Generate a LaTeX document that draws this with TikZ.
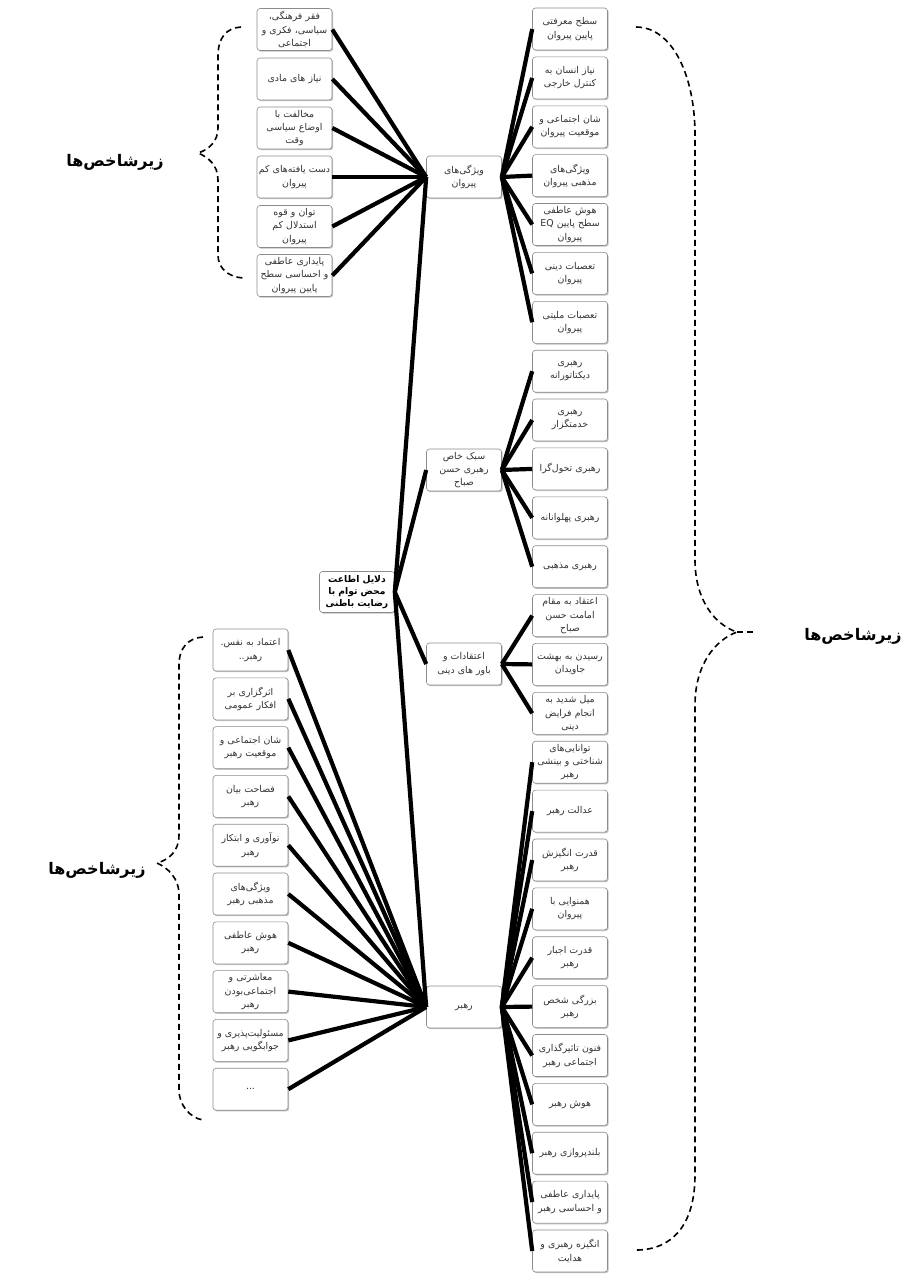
\documentclass[tikz,border=0pt]{standalone}
\usepackage{fontspec}
\newfontfamily\arabicfont[Script=Arabic]{DejaVu Sans}
\TeXXeTstate=1
\usetikzlibrary{shadows}
\newcommand{\rl}[1]{\beginR #1\endR}
\begin{document}
\begin{tikzpicture}[x=1pt,y=-1pt,
  box/.style={draw=black!45, line width=0.6pt, rounded corners=3pt, fill=white,
    minimum width=75pt, minimum height=42pt, text width=74pt, align=center, inner xsep=0.5pt, inner ysep=0pt,
    font=\arabicfont\fontsize{9.4}{13.2}\selectfont, text=black!80,
    drop shadow={shadow xshift=1.2pt, shadow yshift=-1.2pt, fill=black!30, opacity=.8}},
  rootbox/.style={box, font=\arabicfont\bfseries\fontsize{9.2}{12.2}\selectfont, text=black, minimum height=41pt},
  conn/.style={line width=4.2pt, black},
  brace/.style={line width=1.6pt, dash pattern=on 6pt off 4pt, black},
  lbl/.style={font=\arabicfont\bfseries\fontsize{16}{18}\selectfont}]
\useasboundingbox[fill=white] (0,0) rectangle (908,1275);

% right column
\node[box] (r0) at (570,29.0) {\rl{سطح معرفتی}\\\rl{پایین پیروان}};
\node[box] (r1) at (570,77.9) {\rl{نیاز انسان به}\\\rl{کنترل خارجی}};
\node[box] (r2) at (570,126.8) {\rl{شان اجتماعی و}\\\rl{موقعیت پیروان}};
\node[box] (r3) at (570,175.6) {\rl{ویژگی^^^^200cهای}\\\rl{مذهبی پیروان}};
\node[box] (r4) at (570,224.5) {\rl{هوش عاطفی}\\\rl{سطح پایین \beginL EQ\endL{}}\\\rl{پیروان}};
\node[box] (r5) at (570,273.4) {\rl{تعصبات دینی}\\\rl{پیروان}};
\node[box] (r6) at (570,322.3) {\rl{تعصبات ملیتی}\\\rl{پیروان}};
\node[box] (r7) at (570,371.2) {\rl{رهبری}\\\rl{دیکتاتورانه}};
\node[box] (r8) at (570,420.0) {\rl{رهبری}\\\rl{خدمتگزار}};
\node[box] (r9) at (570,468.9) {\rl{رهبری تحول^^^^200cگرا}};
\node[box] (r10) at (570,517.8) {\rl{رهبری پهلوانانه}};
\node[box] (r11) at (570,566.7) {\rl{رهبری مذهبی}};
\node[box] (r12) at (570,615.6) {\rl{اعتقاد به مقام}\\\rl{امامت حسن}\\\rl{صباح}};
\node[box] (r13) at (570,664.4) {\rl{رسیدن به بهشت}\\\rl{جاویدان}};
\node[box] (r14) at (570,713.3) {\rl{میل شدید به}\\\rl{انجام فرایض}\\\rl{دینی}};
\node[box] (r15) at (570,762.2) {\rl{توانایی^^^^200cهای}\\\rl{شناختی و بینشی}\\\rl{رهبر}};
\node[box] (r16) at (570,811.1) {\rl{عدالت رهبر}};
\node[box] (r17) at (570,860.0) {\rl{قدرت انگیزش}\\\rl{رهبر}};
\node[box] (r18) at (570,908.8) {\rl{همنوایی با}\\\rl{پیروان}};
\node[box] (r19) at (570,957.7) {\rl{قدرت اجبار}\\\rl{رهبر}};
\node[box] (r20) at (570,1006.6) {\rl{بزرگی شخص}\\\rl{رهبر}};
\node[box] (r21) at (570,1055.5) {\rl{فنون تاثیرگذاری}\\\rl{اجتماعی رهبر}};
\node[box] (r22) at (570,1104.4) {\rl{هوش رهبر}};
\node[box] (r23) at (570,1153.2) {\rl{بلندپروازی رهبر}};
\node[box] (r24) at (570,1202.1) {\rl{پایداری عاطفی}\\\rl{و احساسی رهبر}};
\node[box] (r25) at (570,1251.0) {\rl{انگیزه رهبری و}\\\rl{هدایت}};

% left top column
\node[box] (lt0) at (294.5,29.5) {\rl{فقر فرهنگی،}\\\rl{سیاسی، فکری و}\\\rl{اجتماعی}};
\node[box] (lt1) at (294.5,79) {\rl{نیاز های مادی}};
\node[box] (lt2) at (294.5,128) {\rl{مخالفت با}\\\rl{اوضاع سیاسی}\\\rl{وقت}};
\node[box] (lt3) at (294.5,177) {\rl{دست یافته^^^^200cهای کم}\\\rl{پیروان}};
\node[box] (lt4) at (294.5,226.5) {\rl{توان و قوه}\\\rl{استدلال کم}\\\rl{پیروان}};
\node[box] (lt5) at (294.5,275.5) {\rl{پایداری عاطفی}\\\rl{و احساسی سطح}\\\rl{پایین پیروان}};

% left bottom column
\node[box] (lb0) at (250.5,650) {\rl{اعتماد به نفس.}\\\rl{رهبر..}};
\node[box] (lb1) at (250.5,698.8) {\rl{اثرگزاری بر}\\\rl{افکار عمومی}};
\node[box] (lb2) at (250.5,747.6) {\rl{شان اجتماعی و}\\\rl{موقعیت رهبر}};
\node[box] (lb3) at (250.5,796.4) {\rl{فصاحت بیان}\\\rl{رهبر}};
\node[box] (lb4) at (250.5,845.2) {\rl{نوآوری و ابتکار}\\\rl{رهبر}};
\node[box] (lb5) at (250.5,894) {\rl{ویژگی^^^^200cهای}\\\rl{مذهبی رهبر}};
\node[box] (lb6) at (250.5,942.8) {\rl{هوش عاطفی}\\\rl{رهبر}};
\node[box] (lb7) at (250.5,991.6) {\rl{معاشرتی و}\\\rl{اجتماعی^^^^200cبودن}\\\rl{رهبر}};
\node[box] (lb8) at (250.5,1040.4) {\rl{مسئولیت^^^^200cپذیری و}\\\rl{جوابگویی رهبر}};
\node[box] (lb9) at (250.5,1089.2) {...};

% middle column
\node[box] (m1) at (464,177) {\rl{ویژگی^^^^200cهای}\\\rl{پیروان}};
\node[box] (m2) at (464,470) {\rl{سبک خاص}\\\rl{رهبری حسن}\\\rl{صباح}};
\node[box] (m3) at (464,664) {\rl{اعتقادات و}\\\rl{باور های دینی}};
\node[box] (m4) at (464,1007) {\rl{رهبر}};

% root
\node[rootbox] (root) at (357,592) {\rl{دلایل اطاعت}\\\rl{محض توام با}\\\rl{رضایت باطنی}};

% connectors
\foreach \m in {m1,m2,m3,m4} \draw[conn] (root.east) -- (\m.west);
\foreach \i in {0,...,6} \draw[conn] (m1.east) -- (r\i.west);
\foreach \i in {7,...,11} \draw[conn] (m2.east) -- (r\i.west);
\foreach \i in {12,...,14} \draw[conn] (m3.east) -- (r\i.west);
\foreach \i in {15,...,25} \draw[conn] (m4.east) -- (r\i.west);
\foreach \i in {0,...,5} \draw[conn] (m1.west) -- (lt\i.east);
\foreach \i in {0,...,9} \draw[conn] (m4.west) -- (lb\i.east);

% braces
\coordinate (rbS) at (636,27);
\coordinate (rbT) at (737,632);
\coordinate (rbE) at (636,1250);
\coordinate (rbX) at (753,632);
\draw[brace] (rbS) .. controls (672,27) and (695,75) .. (695,135) -- (695,560)
  .. controls (695,600) and (715,625) .. (rbT)
  .. controls (715,640) and (695,665) .. (695,705) -- (695,1175)
  .. controls (695,1225) and (672,1250) .. (rbE);
\draw[brace] (rbT) -- (rbX);

\coordinate (ltS) at (241,27);
\coordinate (ltT) at (198,153);
\coordinate (ltE) at (243,278);
\draw[brace] (ltS) .. controls (226,28) and (218,38) .. (218,56) -- (218,128)
  .. controls (218,142) and (208,150) .. (ltT)
  .. controls (208,157) and (218,165) .. (218,180) -- (218,255)
  .. controls (218,268) and (228,277) .. (ltE);

\coordinate (lbS) at (203,637);
\coordinate (lbT) at (157,863);
\coordinate (lbE) at (203,1120);
\draw[brace] (lbS) .. controls (188,638) and (179,648) .. (179,665) -- (179,835)
  .. controls (179,852) and (168,860) .. (lbT)
  .. controls (168,868) and (179,878) .. (179,895) -- (179,1090)
  .. controls (179,1105) and (190,1118) .. (lbE);

% labels
\node[lbl] (labA) at (115,162) {\rl{زیرشاخص^^^^200cها}};
\node[lbl] (labB) at (97,870) {\rl{زیرشاخص^^^^200cها}};
\node[lbl] (labC) at (853,636) {\rl{زیرشاخص^^^^200cها}};
\end{tikzpicture}
\end{document}
